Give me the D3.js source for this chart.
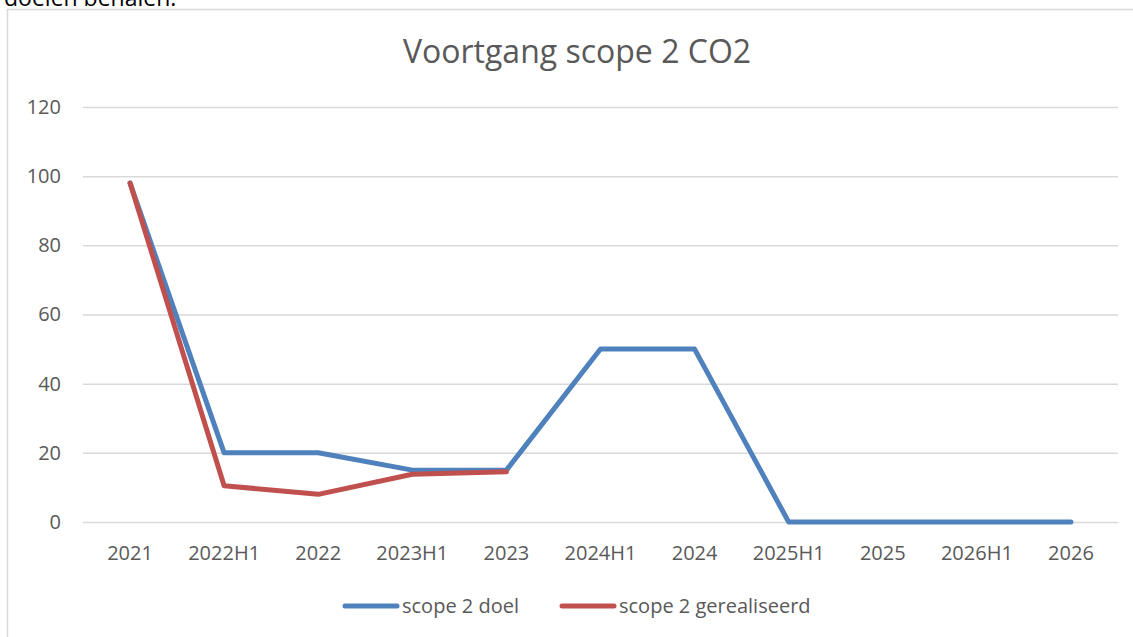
<!DOCTYPE html>
<html><head><meta charset="utf-8">
<script src="https://cdn.jsdelivr.net/npm/d3@7/dist/d3.min.js"></script>
<style>body{margin:0;background:#fff;overflow:hidden}svg{display:block}</style>
</head><body><svg id="c" width="1133" height="637"></svg>
<script>
const categories = ["2021","2022H1","2022","2023H1","2023","2024H1","2024","2025H1","2025","2026H1","2026"];
const doel = [98,20,20,15,15,50,50,0,0,0,0];
const gerealiseerd = [98,10.5,8,13.8,14.5];
const yTicks = [0,20,40,60,80,100,120];
const seriesNames = ["scope 2 doel","scope 2 gerealiseerd"];
const colors = ["#4F81BD","#C0504D"];

const svg = d3.select("#c");
const font = "'Open Sans', 'Liberation Sans', sans-serif";
const txt = "#595959";

// surrounding document text, cut off at top
svg.append("text").attr("x",4).attr("y",6).attr("font-family",font).attr("font-size",23).attr("fill","#000").text("doelen behalen.");

// chart area border
svg.append("rect").attr("x",7.5).attr("y",9.5).attr("width",1140).attr("height",640)
  .attr("fill","#fff").attr("stroke","#d9d9d9").attr("stroke-width",1.5);

const x = d3.scaleBand().domain(categories).range([83,1118]);
const y = d3.scaleLinear().domain([0,120]).range([522,107]);

svg.append("text").attr("x",577).attr("y",63).attr("text-anchor","middle")
  .attr("font-family",font).attr("font-size",32).attr("fill",txt).text("Voortgang scope 2 CO2");

// grid
const yAxis = d3.axisLeft(y).tickValues(yTicks).tickSize(-(1118-83)).tickPadding(22);
const gy = svg.append("g").attr("transform","translate(83,0)").call(yAxis);
gy.select(".domain").remove();
gy.selectAll(".tick line").attr("stroke","#d9d9d9").attr("stroke-width",1.5);
gy.selectAll(".tick text").attr("font-family",font).attr("font-size",20).attr("fill",txt);

const xAxis = d3.axisBottom(x).tickSize(0).tickPadding(24);
const gx = svg.append("g").attr("transform","translate(0,522)").call(xAxis);
gx.select(".domain").remove();
gx.selectAll(".tick text").attr("font-family",font).attr("font-size",20).attr("fill",txt);

const line = d3.line().x((d,i)=>x(categories[i])+x.bandwidth()/2).y(d=>y(d));
[doel,gerealiseerd].forEach((s,i)=>{
  svg.append("path").datum(s).attr("d",line).attr("fill","none")
    .attr("stroke",colors[i]).attr("stroke-width",5).attr("stroke-linejoin","round").attr("stroke-linecap","round");
});

// legend
const leg = [{x:345,t:402},{x:562,t:619}];
seriesNames.forEach((n,i)=>{
  svg.append("line").attr("x1",leg[i].x).attr("x2",leg[i].x+52).attr("y1",606).attr("y2",606)
    .attr("stroke",colors[i]).attr("stroke-width",5).attr("stroke-linecap","round");
  svg.append("text").attr("x",leg[i].t).attr("y",613).attr("font-family",font).attr("font-size",20)
    .attr("fill",txt).text(n);
});
</script></body></html>
